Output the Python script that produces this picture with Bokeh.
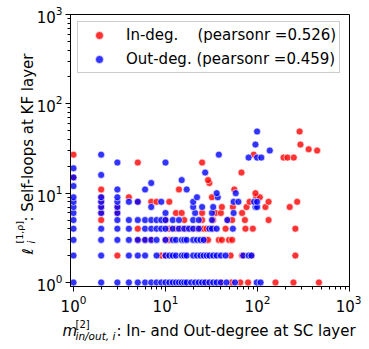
import math
from bokeh.plotting import figure
from bokeh.models import Range1d, Label, Legend, LegendItem
from bokeh.embed import file_html
from bokeh.resources import INLINE

# ---------------- data ----------------
# In-degree at SC layer vs. self-loops at KF layer (red)
in_degree = [
    28, 40, 52, 65, 79, 157, 246, 465,
    3, 9, 10, 51, 68, 85, 258,
    5, 6, 7, 10, 11, 27, 29, 38, 41, 49, 53,
    5, 11, 13, 15, 17, 19, 22, 24, 26, 28, 33, 45, 74, 89, 258,
    2, 10, 16, 25, 33, 48, 53, 73, 132,
    2, 3, 13, 15, 25, 35, 40, 68,
    2, 3, 41, 54, 76, 122, 224,
    2, 5, 7, 8, 11, 82, 132, 270,
    2, 4, 32, 97, 106,
    95, 2, 14, 56, 30, 29, 1, 67, 5, 25,
    192, 212, 248, 1, 91, 445, 360, 293, 287,
]
in_loops = [
    1, 1, 1, 1, 1, 1, 1, 1,
    2, 2, 2, 2, 2, 2, 2,
    3, 3, 3, 3, 3, 3, 3, 3, 3, 3, 3,
    4, 4, 4, 4, 4, 4, 4, 4, 4, 4, 4, 4, 4, 4, 4,
    5, 5, 5, 5, 5, 5, 5, 5, 5,
    6, 6, 6, 6, 6, 6, 6, 6,
    7, 7, 7, 7, 7, 7, 7,
    8, 8, 8, 8, 8, 8, 8, 8,
    9, 9, 9, 9, 9,
    10, 11, 11, 11, 13, 14, 15, 17, 22, 22,
    25, 25, 25, 27, 27, 30, 31, 35, 49,
]

# Out-degree at SC layer vs. self-loops at KF layer (blue)
out_degree = [
    1, 2, 3, 4, 5, 6, 7, 8, 9, 10, 11, 12, 13, 14, 15, 16, 17, 19, 21, 23,
    25, 27, 30, 33, 36, 40, 46, 57, 98, 108,
    1, 2, 4, 5, 6, 8, 10, 11, 12, 13, 15, 16, 17, 20, 22, 24, 26, 28, 30, 33,
    36, 40, 45, 70, 80, 86,
    1, 2, 3, 4, 5, 6, 7, 8, 10, 12, 13, 15, 16, 17, 20, 22, 24, 26,
    1, 2, 3, 4, 6, 7, 8, 9, 10, 12, 14, 16, 18, 20, 23, 30, 32, 36, 54,
    1, 3, 4, 5, 6, 7, 8, 9, 10, 12, 14, 20, 23, 32, 47,
    1, 2, 3, 10, 21, 32, 55,
    1, 2, 3, 7, 20, 25, 33, 95, 99,
    1, 2, 3, 4, 5, 9, 20, 55, 62, 92, 99,
    1, 2, 3, 22, 37,
    36, 58, 3, 6, 17, 1, 7, 15, 1, 2, 27, 1, 3, 10,
    80, 99, 110, 2, 38, 136, 95, 99,
]
out_loops = [
    1, 1, 1, 1, 1, 1, 1, 1, 1, 1, 1, 1, 1, 1, 1, 1, 1, 1, 1, 1,
    1, 1, 1, 1, 1, 1, 1, 1, 1, 1,
    2, 2, 2, 2, 2, 2, 2, 2, 2, 2, 2, 2, 2, 2, 2, 2, 2, 2, 2, 2,
    2, 2, 2, 2, 2, 2,
    3, 3, 3, 3, 3, 3, 3, 3, 3, 3, 3, 3, 3, 3, 3, 3, 3, 3,
    4, 4, 4, 4, 4, 4, 4, 4, 4, 4, 4, 4, 4, 4, 4, 4, 4, 4, 4,
    5, 5, 5, 5, 5, 5, 5, 5, 5, 5, 5, 5, 5, 5, 5,
    6, 6, 6, 6, 6, 6, 6,
    7, 7, 7, 7, 7, 7, 7, 7, 7,
    8, 8, 8, 8, 8, 8, 8, 8, 8, 8, 8,
    9, 9, 9, 9, 9,
    10, 10, 11, 11, 11, 12, 13, 14, 15, 16, 17, 19, 22, 22,
    25, 25, 25, 27, 27, 30, 35, 49,
]

in_label = "In-deg.\u00a0\u00a0\u00a0\u00a0(pearsonr =0.526)"
out_label = "Out-deg. (pearsonr =0.459)"

FONT = "DejaVu Sans"

p = figure(
    frame_width=279, frame_height=272,
    min_border_left=70, min_border_right=12, min_border_top=14, min_border_bottom=60,
    x_axis_type="log", y_axis_type="log",
    x_range=Range1d(0.928, 1000), y_range=Range1d(0.902, 1000),
    output_backend="svg", toolbar_location=None,
)
p.background_fill_color = "white"
p.border_fill_color = "white"
p.outline_line_color = "black"
p.outline_line_width = 1
p.outline_line_alpha = 1
p.grid.visible = False

for ax in (p.xaxis, p.yaxis):
    ax.major_label_text_font = FONT
    ax.major_label_text_font_size = "15px"
    ax.major_label_text_color = "black"
    ax.axis_line_color = "black"
    ax.major_tick_line_color = "black"
    ax.minor_tick_line_color = "black"
    ax.major_tick_out = 5
    ax.major_tick_in = 0
    ax.minor_tick_out = 3
    ax.minor_tick_in = 0
    ax.major_label_standoff = 3

r_in = p.scatter(in_degree, in_loops, size=7, marker="circle",
                 fill_color="red", fill_alpha=0.8,
                 line_color="white", line_width=0.8, line_alpha=0.8)
r_out = p.scatter(out_degree, out_loops, size=7, marker="circle",
                  fill_color="blue", fill_alpha=0.8,
                  line_color="white", line_width=0.8, line_alpha=0.8)

legend = Legend(
    items=[LegendItem(label=in_label, renderers=[r_in]),
           LegendItem(label=out_label, renderers=[r_out])],
    location="top_left", margin=7, padding=3, spacing=4,
    label_height=20, glyph_height=20, glyph_width=36, label_standoff=9,
    border_line_color="#cccccc", border_line_alpha=1, border_line_width=1,
    background_fill_color="white", background_fill_alpha=0.8,
    label_text_font=FONT, label_text_font_size="15px", label_text_color="black",
)
p.add_layout(legend)


def lab(text, x, y, size="15px", style="normal", angle=0.0):
    # canvas units (top-left origin); placed in a side panel so that the
    # text is not clipped to the plotting frame
    p.add_layout(Label(x=x, y=y, x_units="canvas", y_units="canvas", text=text,
                       text_font=FONT, text_font_size=size, text_font_style=style,
                       text_color="black", text_align="left",
                       text_baseline="alphabetic", angle=angle), "below")


# ---- x-axis label: m^{[2]}_{in/out,i}: In- and Out-degree at SC layer ----
lab("m", 62, 330, style="italic")
lab("[2]", 75, 324, size="10px")
lab("in/out, i", 75, 335, size="10.5px", style="italic")
lab(": In- and Out-degree at SC layer", 116, 330)

# ---- y-axis label: l_i^{[1,rho]}: Self-loops at KF layer (rotated) ----
rot = math.pi / 2
lab("\u2113", 27, 254, style="italic", angle=rot)
lab("i", 31, 243, size="10px", style="italic", angle=rot)
lab("[1,\u03c1]", 19, 243, size="9.5px", angle=rot)
lab(": Self-loops at KF layer", 27, 221, angle=rot)

open("out.html", "w").write(file_html(p, INLINE))
